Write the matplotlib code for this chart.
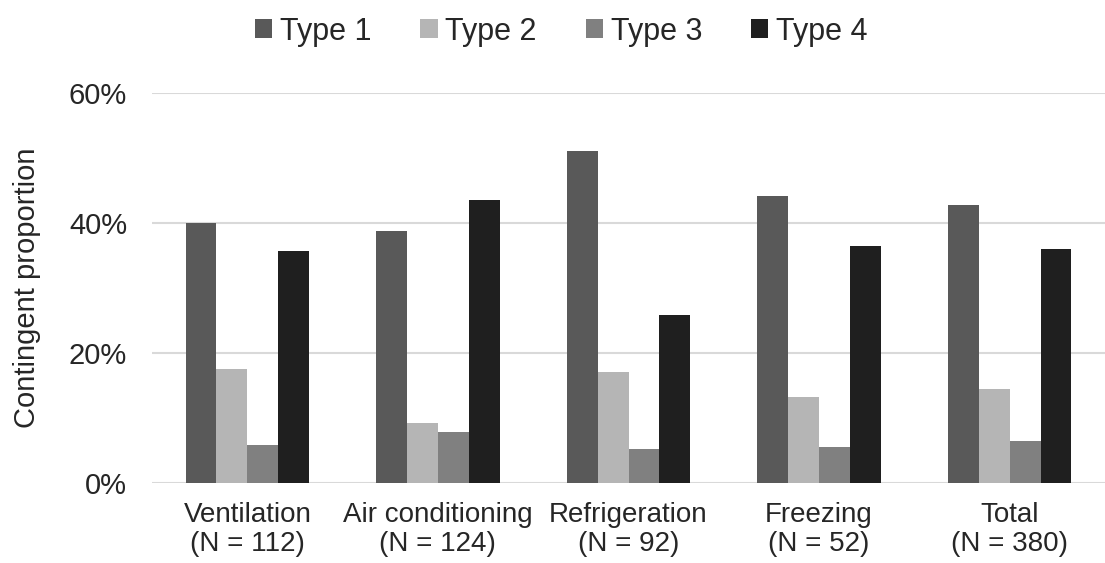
import numpy as np
import matplotlib.pyplot as plt
from matplotlib.ticker import PercentFormatter

plt.rcParams['font.family'] = ['Liberation Sans', 'DejaVu Sans']

# categories and shares (fractions)
categories = ['Ventilation\n(N = 112)', 'Air conditioning\n(N = 124)',
              'Refrigeration\n(N = 92)', 'Freezing\n(N = 52)', 'Total\n(N = 380)']
type1 = [0.400, 0.387, 0.510, 0.441, 0.428]
type2 = [0.176, 0.093, 0.171, 0.132, 0.144]
type3 = [0.059, 0.078, 0.053, 0.055, 0.064]
type4 = [0.357, 0.435, 0.259, 0.364, 0.360]
series_names = ['Type 1', 'Type 2', 'Type 3', 'Type 4']
colors = ['#595959', '#b5b5b5', '#808080', '#1f1f1f']

fig = plt.figure(figsize=(11.05, 5.63), dpi=100)
ax = fig.add_axes([0.1376, 0.142, 0.8624, 0.693])

x = np.arange(len(categories))
w = 0.162
for j, (vals, name) in enumerate(zip([type1, type2, type3, type4], series_names)):
    ax.bar(x + (j - 1.5) * w, vals, width=w, color=colors[j], label=name, zorder=3)

ax.set_xlim(-0.5, len(categories) - 0.5)
ax.set_ylim(0, 0.6)
ax.set_yticks([0, 0.2, 0.4, 0.6])
ax.yaxis.set_major_formatter(PercentFormatter(1.0, decimals=0))
ax.grid(axis='y', color='#d9d9d9', linewidth=1.5, zorder=0)
ax.set_xticks(x)
ax.set_xticklabels(categories, fontsize=20, color='#262626', linespacing=1.15)
ax.tick_params(axis='x', length=0, pad=14)
ax.tick_params(axis='y', length=0, pad=18, labelsize=21, labelcolor='#262626')
for s in ax.spines.values():
    s.set_visible(False)
ax.set_ylabel('Contingent proportion', fontsize=21, color='#262626', labelpad=10)
ax.yaxis.set_label_coords(-0.117, 0.5)

fig.legend(loc='center', bbox_to_anchor=(0.508, 0.944), ncol=4, frameon=False,
           fontsize=22, handlelength=0.56, handleheight=0.56, handletextpad=0.26,
           columnspacing=1.6, labelcolor='#262626', borderpad=0)

fig.savefig('out.png', dpi=100)
